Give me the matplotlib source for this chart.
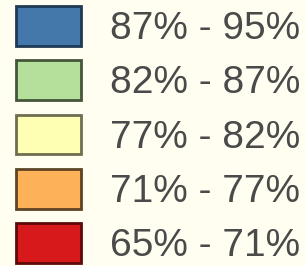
import matplotlib
matplotlib.use("Agg")
import matplotlib.pyplot as plt
from matplotlib.patches import Patch

labels = ["87% - 95%", "82% - 87%", "77% - 82%", "71% - 77%", "65% - 71%"]
colors = ["#4477AA", "#B5E09B", "#FFFFB3", "#FDB25A", "#D7191C"]
edges = ["#1E3A55", "#44553A", "#6E6E50", "#5E4424", "#5E0A0A"]

fig = plt.figure(figsize=(3.06, 2.66), dpi=100)
fig.patch.set_facecolor("#FFFEF0")

handles = [Patch(facecolor=c, edgecolor=e, linewidth=2.0, label=l)
           for c, e, l in zip(colors, edges, labels)]
leg = fig.legend(handles=handles, loc="upper left",
                 bbox_to_anchor=(16 / 306, 1 - 6 / 266),
                 frameon=False, prop={"family": "Liberation Sans", "size": 28},
                 handlelength=1.67, handleheight=1.2,
                 handletextpad=0.75, labelspacing=0.34, borderpad=0.0,
                 borderaxespad=0.0, labelcolor="#4A4A4A")
fig.savefig("out.png", dpi=100, facecolor=fig.get_facecolor())
